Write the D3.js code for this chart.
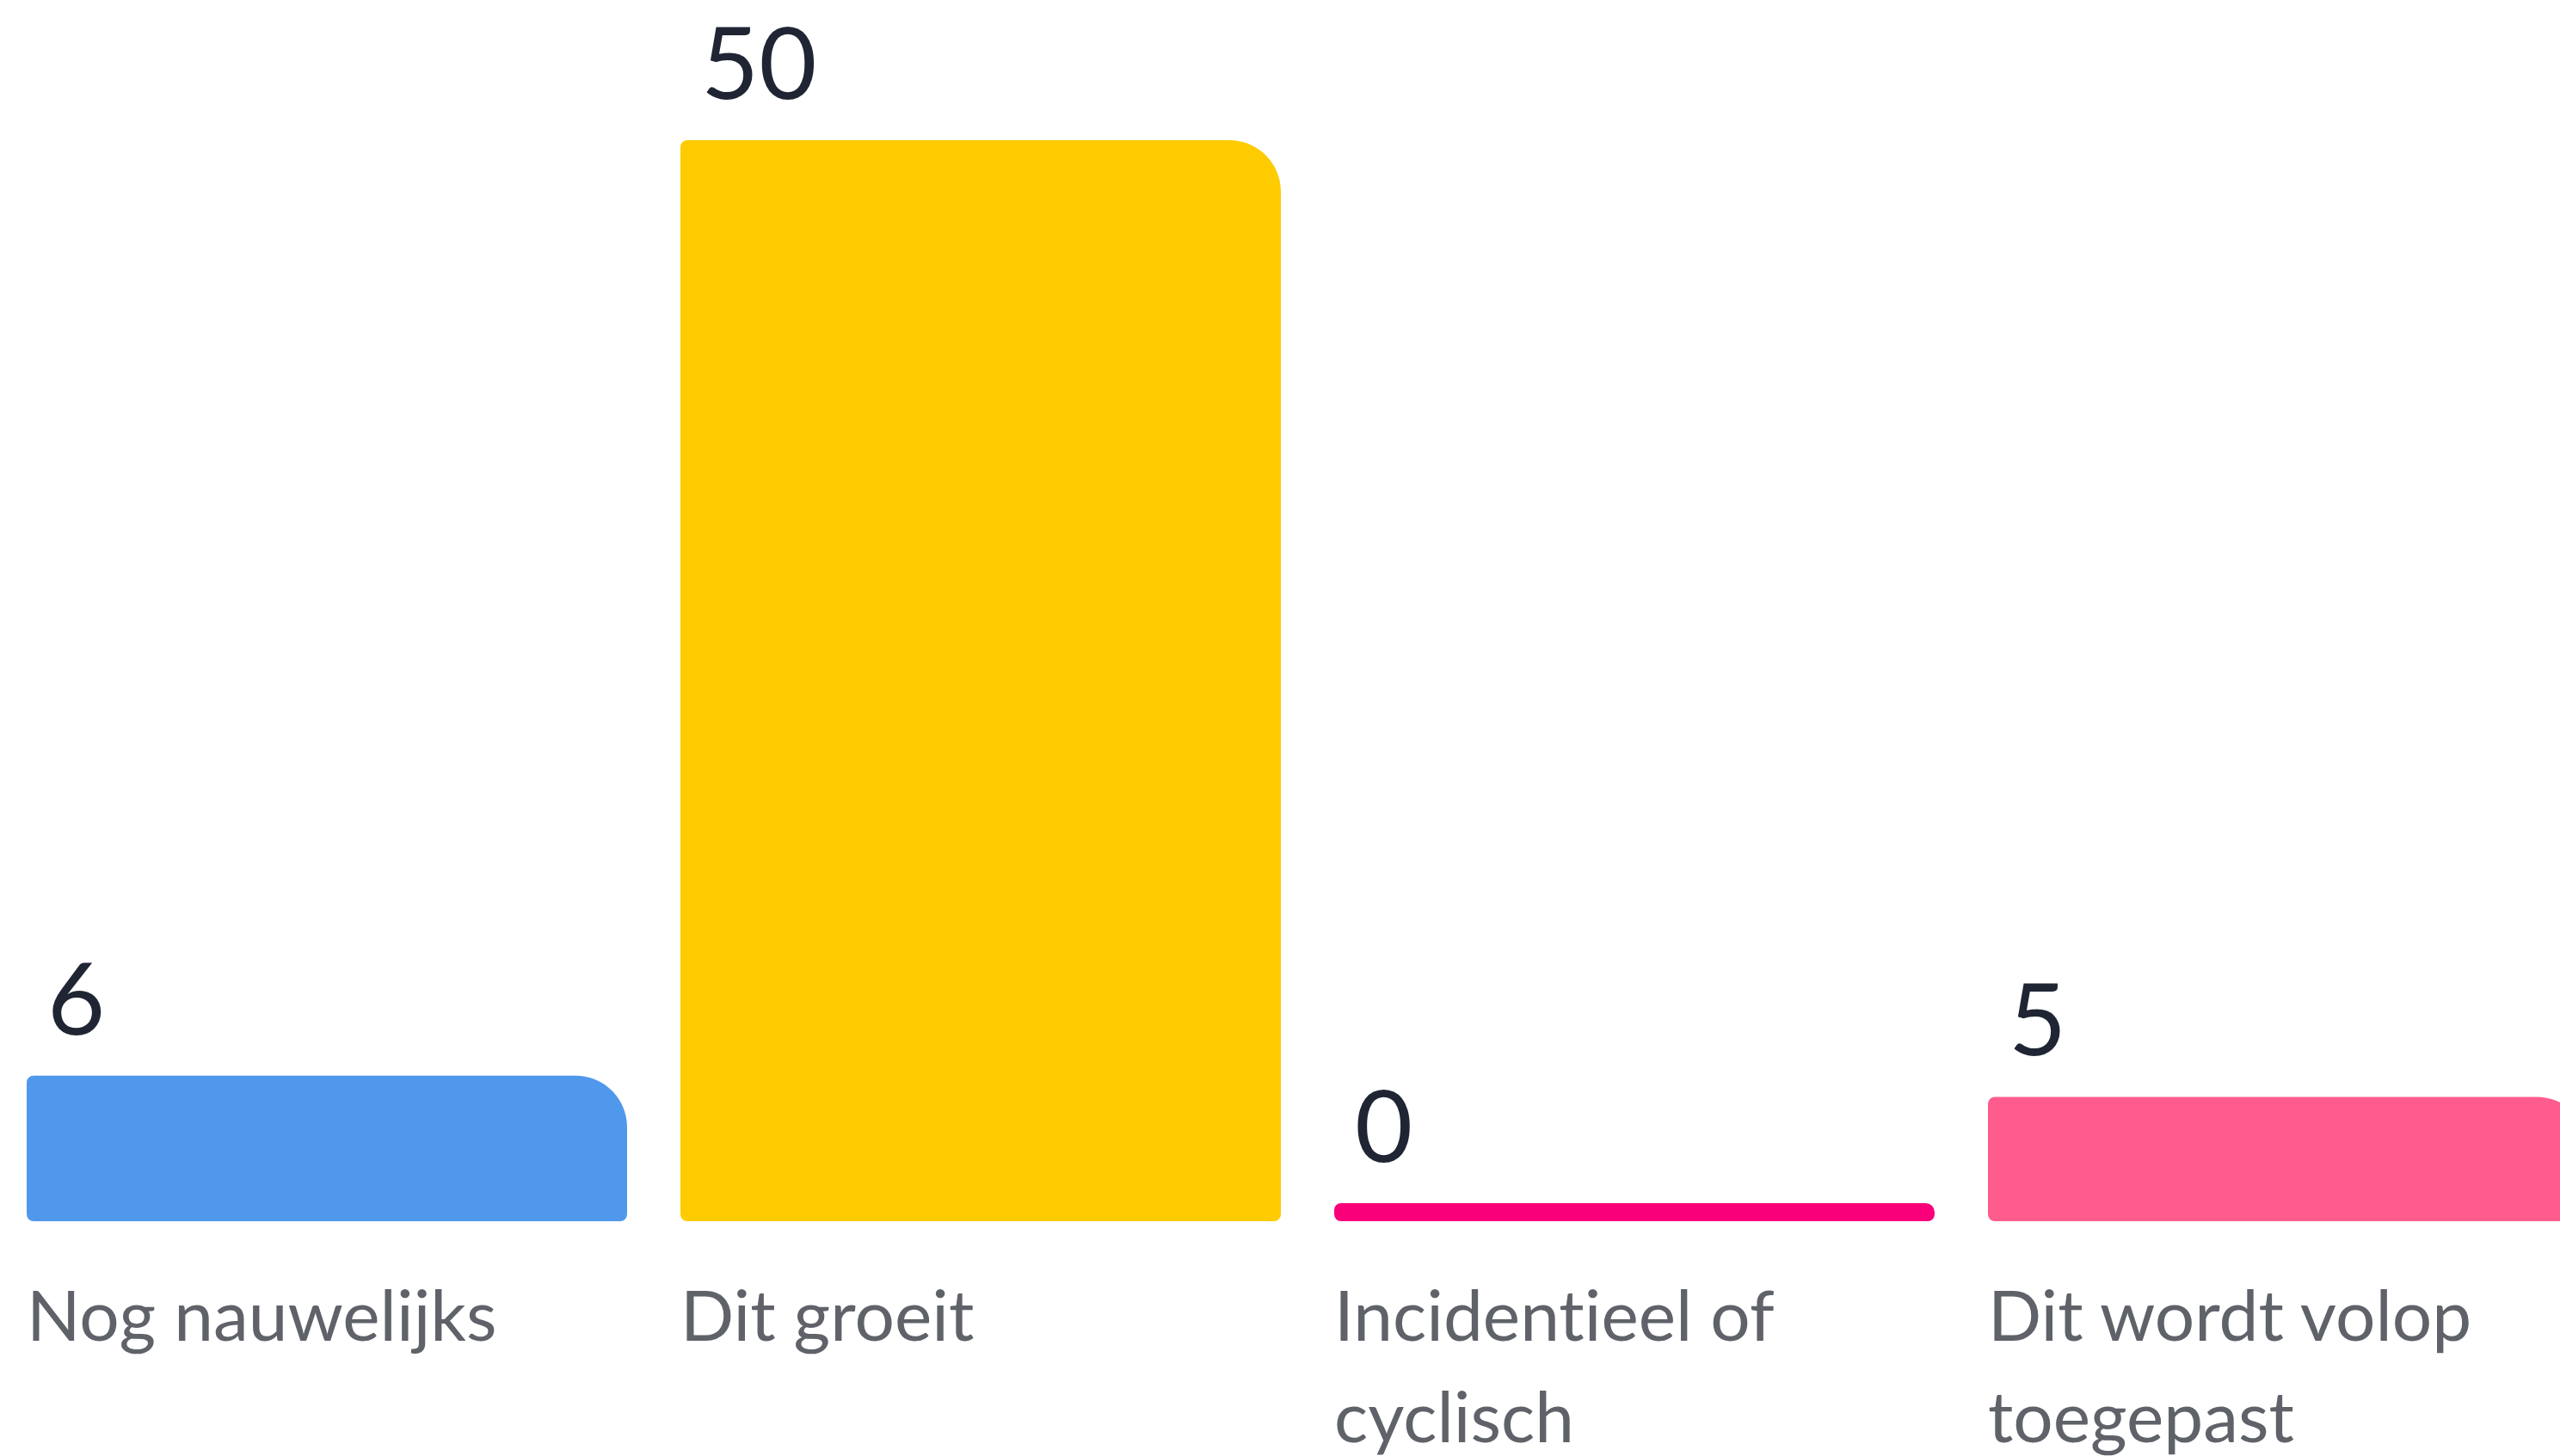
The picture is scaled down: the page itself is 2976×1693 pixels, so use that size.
<!DOCTYPE html>
<html>
<head>
<meta charset="utf-8">
<script src="https://cdn.jsdelivr.net/npm/d3@7"></script>
<style>
  html, body { margin: 0; padding: 0; background: #ffffff; overflow: hidden; }
  svg { display: block; }
  text { font-variant-ligatures: none; font-feature-settings: "liga" 0, "clig" 0; }
</style>
</head>
<body>
<svg id="chart" width="2976" height="1693"></svg>
<script>
const categories = ["Nog nauwelijks", "Dit groeit", "Incidentieel of cyclisch", "Dit wordt volop toegepast"];
const values = [6, 50, 0, 5];
const colors = ["#4f98eb", "#fecb00", "#f9007a", "#ff5c8e"];

const W = 2976, H = 1693;
const svg = d3.select("#chart");

const baseY = 1420;      // bottom of bars
const minBar = 21;       // height drawn for a zero value

const x = d3.scaleBand()
  .domain(categories)
  .range([31, 3009])
  .paddingInner(0.0816)
  .paddingOuter(0);

const y = d3.scaleLinear()
  .domain([0, 50])
  .range([baseY - minBar, 163]);

function barPath(x0, y0, w, h, rtl, rtr, rbr, rbl) {
  const m = Math.min(w, h) / 2;
  rtl = Math.min(rtl, m); rtr = Math.min(rtr, m); rbr = Math.min(rbr, m); rbl = Math.min(rbl, m);
  const p = d3.path();
  p.moveTo(x0 + rtl, y0);
  p.lineTo(x0 + w - rtr, y0);
  p.arcTo(x0 + w, y0, x0 + w, y0 + rtr, rtr);
  p.lineTo(x0 + w, y0 + h - rbr);
  p.arcTo(x0 + w, y0 + h, x0 + w - rbr, y0 + h, rbr);
  p.lineTo(x0 + rbl, y0 + h);
  p.arcTo(x0, y0 + h, x0, y0 + h - rbl, rbl);
  p.lineTo(x0, y0 + rtl);
  p.arcTo(x0, y0, x0 + rtl, y0, rtl);
  p.closePath();
  return p.toString();
}

const data = categories.map((c, i) => ({ cat: c, v: values[i], color: colors[i] }));

const g = svg.append("g");

g.selectAll("path.bar")
  .data(data)
  .join("path")
  .attr("class", "bar")
  .attr("fill", d => d.color)
  .attr("d", d => {
    const top = y(d.v);
    const h = baseY - top;
    return barPath(x(d.cat), top, x.bandwidth(), h, 8, 60, 8, 8);
  });

// value labels
g.selectAll("text.val")
  .data(data)
  .join("text")
  .attr("class", "val")
  .attr("x", d => x(d.cat) + 24)
  .attr("y", d => y(d.v) - 48)
  .attr("font-family", "Lato, 'Noto Sans', sans-serif")
  .attr("font-size", 116)
  .attr("fill", "#1f2533")
  .text(d => d.v);

// category labels with wrapping
const labels = g.selectAll("text.cat")
  .data(data)
  .join("text")
  .attr("class", "cat")
  .attr("x", d => x(d.cat))
  .attr("y", 1559)
  .attr("font-family", "Lato, 'Noto Sans', sans-serif")
  .attr("font-size", 82)
  .attr("fill", "#5f6269");

labels.each(function(d) {
  const t = d3.select(this);
  const words = d.cat.split(" ");
  const maxW = x.bandwidth();
  let line = [];
  let tspan = t.append("tspan").attr("x", x(d.cat)).attr("dy", 0);
  words.forEach(w => {
    line.push(w);
    tspan.text(line.join(" "));
    if (tspan.node().getComputedTextLength() > maxW && line.length > 1) {
      line.pop();
      tspan.text(line.join(" "));
      line = [w];
      tspan = t.append("tspan").attr("x", x(d.cat)).attr("dy", 118).text(w);
    }
  });
});
</script>
</body>
</html>
